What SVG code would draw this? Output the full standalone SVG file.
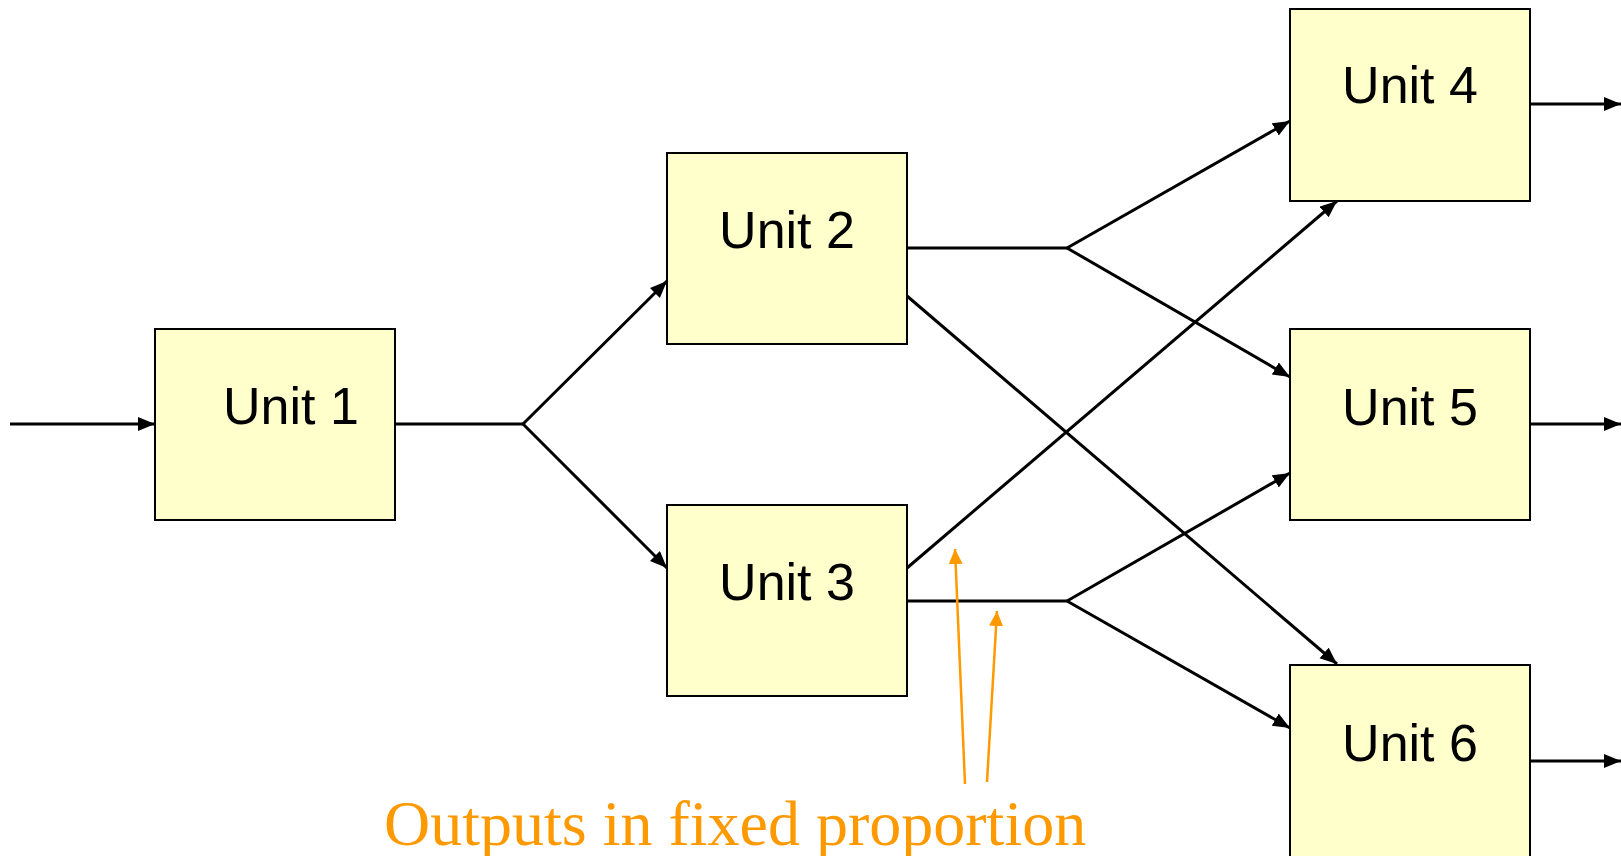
<svg xmlns="http://www.w3.org/2000/svg" width="1621" height="856" viewBox="0 0 1621 856">
<style>
.box{fill:#FFFFCC;stroke:#000;stroke-width:2}
.lbl{font-family:"Liberation Sans",Arial,sans-serif;font-size:52px;fill:#000}
.ln{fill:none;stroke:#000;stroke-width:3}
.ar{fill:none;stroke:#000;stroke-width:3;marker-end:url(#ah)}
.or{fill:none;stroke:#FF9900;stroke-width:2.5;marker-end:url(#oh)}
.note{font-family:"Liberation Serif","Times New Roman",serif;font-size:64px;fill:#FF9900}
</style>
<defs>
<marker id="ah" markerUnits="userSpaceOnUse" markerWidth="18" markerHeight="15" refX="17" refY="7" orient="auto">
<path d="M0,0 L17,7 L0,14 z" fill="#000"/>
</marker>
<marker id="oh" markerUnits="userSpaceOnUse" markerWidth="16" markerHeight="15" refX="15" refY="7" orient="auto">
<path d="M0,0 L15,7 L0,14 z" fill="#FF9900"/>
</marker>
</defs>
<rect width="1621" height="856" fill="#fff"/>
<g id="connectors">
<line class="ar" x1="10" y1="424" x2="155" y2="424"/>
<polyline class="ln" points="395,424 523,424"/>
<line class="ar" x1="523" y1="424" x2="667" y2="281"/>
<line class="ar" x1="523" y1="424" x2="667" y2="568"/>
<polyline class="ln" points="907,248 1067,248"/>
<line class="ar" x1="1067" y1="248" x2="1290" y2="121"/>
<line class="ar" x1="1067" y1="248" x2="1290" y2="377"/>
<line class="ar" x1="907" y1="296" x2="1337" y2="664"/>
<line class="ar" x1="907" y1="568" x2="1337" y2="201"/>
<polyline class="ln" points="907,601 1067,601"/>
<line class="ar" x1="1067" y1="601" x2="1290" y2="473"/>
<line class="ar" x1="1067" y1="601" x2="1290" y2="728"/>
<line class="ar" x1="1531" y1="104" x2="1621" y2="104"/>
<line class="ar" x1="1531" y1="424" x2="1621" y2="424"/>
<line class="ar" x1="1531" y1="761" x2="1621" y2="761"/>
</g>
<g id="unit1"><rect class="box" x="155" y="329" width="240" height="191"/><text class="lbl" x="223" y="424">Unit 1</text></g>
<g id="unit2"><rect class="box" x="667" y="153" width="240" height="191"/><text class="lbl" x="787" y="248" text-anchor="middle">Unit 2</text></g>
<g id="unit3"><rect class="box" x="667" y="505" width="240" height="191"/><text class="lbl" x="787" y="600" text-anchor="middle">Unit 3</text></g>
<g id="unit4"><rect class="box" x="1290" y="9" width="240" height="192"/><text class="lbl" x="1410" y="103" text-anchor="middle">Unit 4</text></g>
<g id="unit5"><rect class="box" x="1290" y="329" width="240" height="191"/><text class="lbl" x="1410" y="425" text-anchor="middle">Unit 5</text></g>
<g id="unit6"><rect class="box" x="1290" y="665" width="240" height="210"/><text class="lbl" x="1410" y="761" text-anchor="middle">Unit 6</text></g>
<g id="annotation">
<line class="or" x1="965" y1="784" x2="955" y2="549"/>
<line class="or" x1="987" y1="782" x2="997" y2="611"/>
<text class="note" x="384" y="845">Outputs in fixed proportion</text>
</g>
</svg>
